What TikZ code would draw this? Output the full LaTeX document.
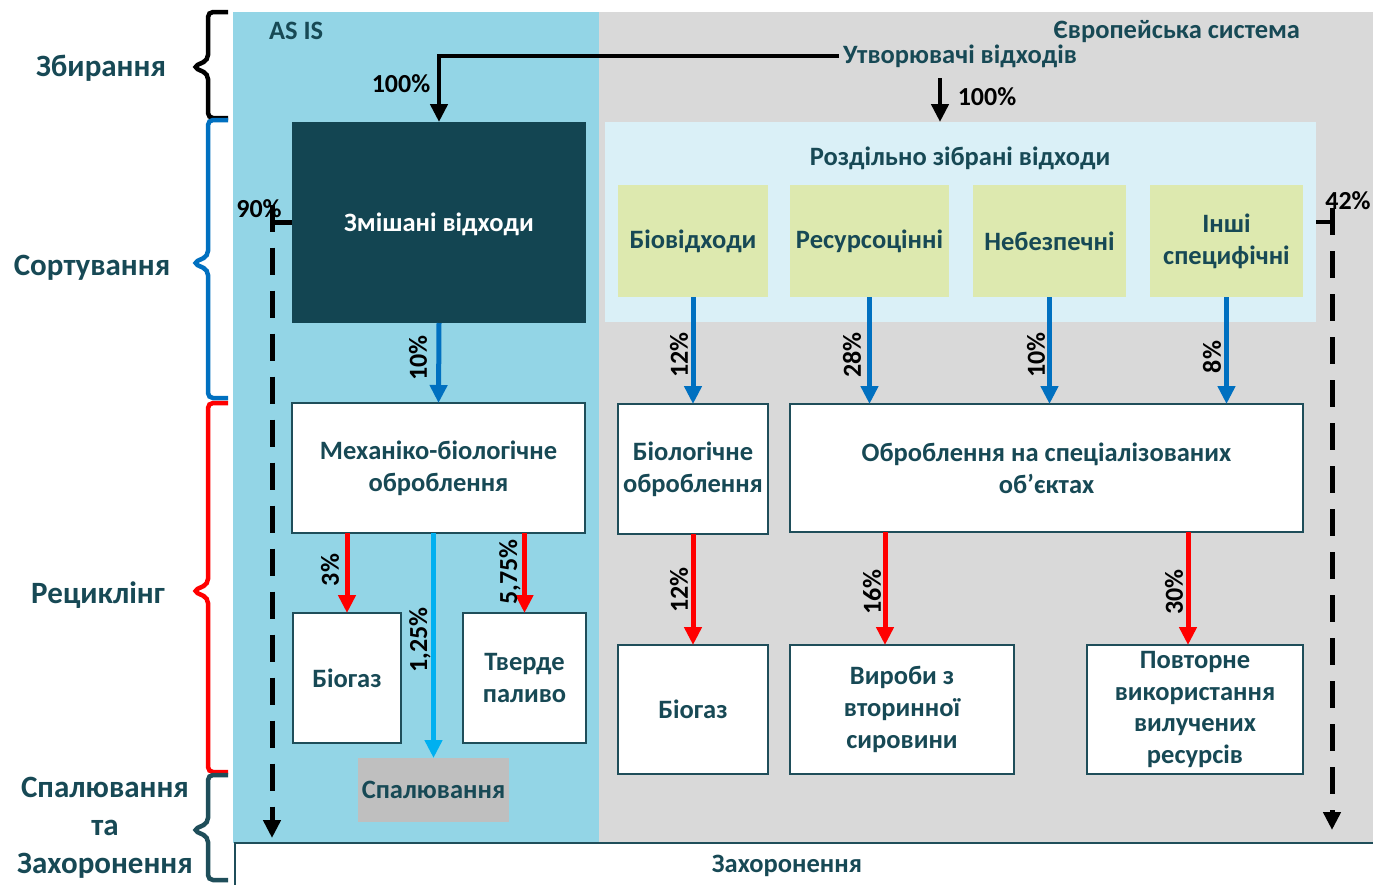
\documentclass[tikz,border=0pt]{standalone}
\usepackage{fontspec}
\setmainfont{Carlito}
\usetikzlibrary{arrows.meta,calc}
\definecolor{asis}{RGB}{147,213,230}
\definecolor{eugray}{RGB}{217,217,217}
\definecolor{contbg}{RGB}{218,240,247}
\definecolor{greenbox}{RGB}{221,233,175}
\definecolor{darkbox}{RGB}{19,69,82}
\definecolor{tealtxt}{RGB}{23,73,85}
\definecolor{boxline}{RGB}{31,78,90}
\definecolor{arrblue}{RGB}{0,112,192}
\definecolor{arrlblue}{RGB}{0,176,240}
\definecolor{arrred}{RGB}{255,0,0}
\definecolor{spalgray}{RGB}{191,191,191}
\tikzset{
  every node/.style={inner sep=0pt, outer sep=0pt},
  T/.style={font=\fontsize{26.5}{32}\selectfont\bfseries, text=tealtxt},
  S/.style={font=\fontsize{31}{38}\selectfont\bfseries, text=tealtxt, align=center},
  pct/.style={font=\fontsize{26}{28}\selectfont\bfseries, text=black},
  rpct/.style={pct, rotate=90},
  wbox/.style={draw=boxline, line width=2.5pt, fill=white, align=center, T},
  gbox/.style={fill=greenbox, align=center, T},
  barr/.style={draw=arrblue, line width=5pt, -{Triangle[length=18pt,width=17pt]}},
  lbarr/.style={draw=arrlblue, line width=5pt, -{Triangle[length=18pt,width=17pt]}},
  rarr/.style={draw=arrred, line width=5pt, -{Triangle[length=18pt,width=17pt]}},
  karr/.style={draw=black, line width=4.5pt, -{Triangle[length=18pt,width=17pt]}},
  kline/.style={draw=black, line width=4.5pt},
  dasharr/.style={draw=black, line width=5pt, dash pattern=on 27pt off 16pt, -{Triangle[length=18pt,width=17pt]}},
  bracestyle/.style={line width=4.5pt, rounded corners=5pt},
}
\begin{document}
\begin{tikzpicture}[x=1pt,y=-1pt]
\clip (0,0) rectangle (1373,884);
\useasboundingbox (0,0) rectangle (1373,884);
\fill[white] (0,0) rectangle (1373,884);
% backgrounds
\fill[asis] (233,12) rectangle (599,843);
\fill[eugray] (599,12) rectangle (1380,843);
\node[T, anchor=west] (asislbl) at (269,31) {AS IS};
\node[T, anchor=east] (eulbl) at (1300,32) {Європейська система};
% bottom landfill
\node[draw=boxline, line width=2.5pt, fill=white, minimum width=1170, minimum height=60, anchor=north west] (land) at (235,843) {};
\node[T] (landlbl) at (787,866) {Захоронення};
% generators
\node[T, outer sep=4pt] (utv) at (960,56) {Утворювачі відходів};
% AS IS side
\node[fill=darkbox, minimum width=294, minimum height=201] (mix) at (439,222.5) {};
\node[T, text=white] (mixlbl) at (439,224) {Змішані відходи};
\node[wbox, minimum width=293, minimum height=130] (mbo) at (438.5,468) {Механіко-біологічне\\оброблення};
\node[wbox, minimum width=108, minimum height=130] (bio1) at (347,678) {Біогаз};
\node[wbox, minimum width=123, minimum height=130] (tv) at (524.5,678) {Тверде\\паливо};
\node[fill=spalgray, minimum width=151, minimum height=64, T] (spal) at (433.5,790) {Спалювання};
% European side
\node[fill=contbg, minimum width=711, minimum height=200] (cont) at (960.5,222) {};
\node[T] (contlbl) at (960,158) {Роздільно зібрані відходи};
\node[gbox, minimum width=150, minimum height=112] (g1) at (693,241) {Біовідходи};
\node[gbox, minimum width=159, minimum height=112] (g2) at (869.5,241) {Ресурсоцінні};
\node[gbox, minimum width=153, minimum height=112] (g3) at (1049.5,241) {Небезпечні};
\node[gbox, minimum width=153, minimum height=112] (g4) at (1226.5,241) {Інші\\специфічні};
\node[wbox, minimum width=150, minimum height=130] (bioob) at (693,469) {Біологічне\\оброблення};
\node[wbox, minimum width=513, minimum height=128] (spec) at (1046.5,468) {Оброблення на спеціалізованих\\об’єктах};
\node[wbox, minimum width=150, minimum height=129] (bio2) at (693,709.5) {Біогаз};
\node[wbox, minimum width=224, minimum height=129] (vyr) at (902,709.5) {Вироби з\\вторинної\\сировини};
\node[wbox, minimum width=216, minimum height=129, font=\fontsize{26.5}{31.5}\selectfont\bfseries] (povt) at (1195,709.5) {Повторне\\використання\\вилучених\\ресурсів};
% top arrows
\draw[karr] (utv.west) -| (mix.north);
\node[pct] (p100a) at (401,84) {100\%};
\coordinate (eutop) at (940,78);
\draw[karr] (eutop) -- (eutop |- cont.north);
\node[pct] (p100b) at (987,97) {100\%};
% 90% and 42%
\coordinate (l90) at (272,222.5);
\coordinate (l90end) at (272,838);
\draw[kline] (mix.west) -- ([xshift=-2]l90);
\draw[dasharr] ([yshift=18]l90) -- (l90end);
\node[pct] (p90) at (259,209) {90\%};
\coordinate (r42) at (1332,222);
\coordinate (r42end) at (1332,830);
\draw[kline] (cont.east) -- ([xshift=2]r42);
\draw[dasharr] ([yshift=14]r42) -- (r42end);
\node[pct] (p42) at (1348,201) {42\%};
% AS IS arrows
\draw[barr] (mix.south) -- (mbo.north);
\node[rpct] (p10a) at (418,358) {10\%};
\draw[rarr] (bio1.north |- mbo.south) -- (bio1.north);
\node[rpct] (p3) at (330,570) {3\%};
\draw[rarr] (tv.north |- mbo.south) -- (tv.north);
\node[rpct] (p575) at (510,572) {5,75\%};
\draw[lbarr] (spal.north |- mbo.south) -- (spal.north);
\node[rpct] (p125) at (420,640) {1,25\%};
% European arrows
\draw[barr] (g1.south) -- (bioob.north);
\node[rpct] (p12a) at (679,355) {12\%};
\draw[barr] (g2.south) -- (g2.south |- spec.north);
\node[rpct] (p28) at (852,355) {28\%};
\draw[barr] (g3.south) -- (g3.south |- spec.north);
\node[rpct] (p10b) at (1036,355) {10\%};
\draw[barr] (g4.south) -- (g4.south |- spec.north);
\node[rpct] (p8) at (1212,357) {8\%};
\draw[rarr] (bioob.south) -- (bio2.north);
\node[rpct] (p12b) at (679,590) {12\%};
\draw[rarr] ([xshift=-17]vyr.north |- spec.south) -- ([xshift=-17]vyr.north);
\node[rpct] (p16) at (872,592) {16\%};
\draw[rarr] ([xshift=-7]povt.north |- spec.south) -- ([xshift=-7]povt.north);
\node[rpct] (p30) at (1174,592) {30\%};
% braces
\draw[bracestyle, black] (228,12) -- (208,12) -- (208,60) -- (193,67) -- (208,74) -- (208,118) -- (228,118);
\draw[bracestyle, arrblue] (228,120) -- (208,120) -- (208,256) -- (193,263) -- (208,270) -- (208,398) -- (228,398);
\draw[bracestyle, arrred] (228,403) -- (208,403) -- (208,584) -- (193,591) -- (208,598) -- (208,772) -- (228,772);
\draw[bracestyle, boxline] (228,775) -- (208,775) -- (208,823) -- (193,830) -- (208,837) -- (208,880) -- (228,880);
\node[S] (s1) at (101,68) {Збирання};
\node[S] (s2) at (92,268) {Сортування};
\node[S] (s3) at (98,595) {Рециклінг};
\node[S] (s4) at (105,828) {Спалювання\\та\\Захоронення};
\end{tikzpicture}
\end{document}
